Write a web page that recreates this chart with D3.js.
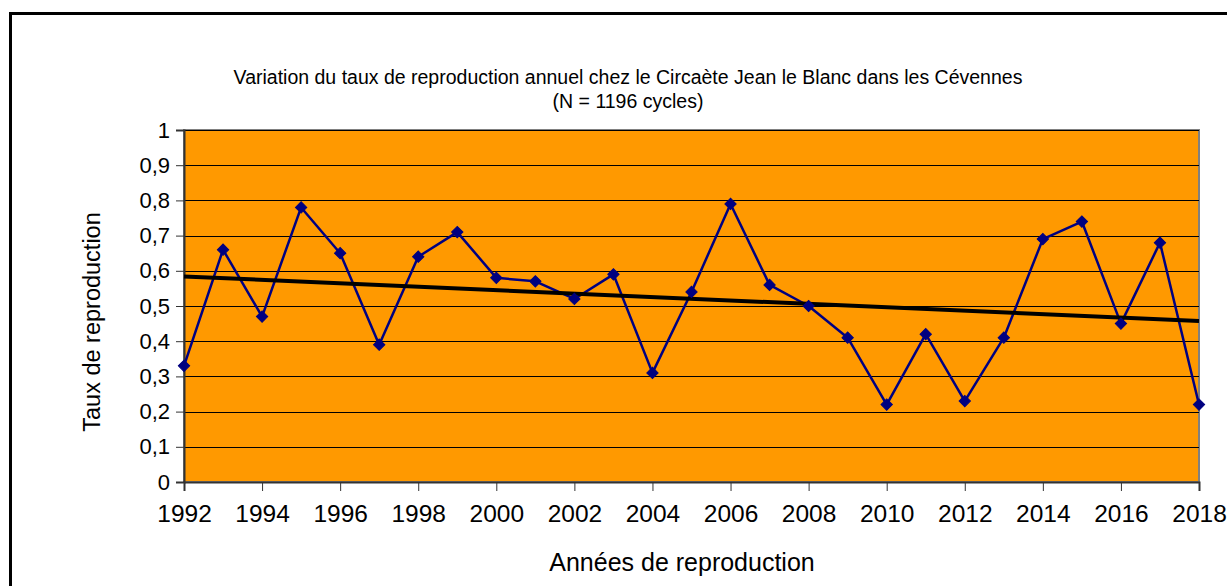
<!DOCTYPE html>
<html>
<head>
<meta charset="utf-8">
<script src="https://cdn.jsdelivr.net/npm/d3@7/dist/d3.min.js"></script>
<style>
  html, body { margin: 0; padding: 0; background: #fff; }
  svg { display: block; font-family: "Liberation Sans", Arial, sans-serif; }
</style>
</head>
<body>
<svg id="chart" width="1227" height="586"></svg>
<script>
const years = [1992,1993,1994,1995,1996,1997,1998,1999,2000,2001,2002,2003,2004,2005,2006,2007,2008,2009,2010,2011,2012,2013,2014,2015,2016,2017,2018];
const rates = [0.33,0.66,0.47,0.78,0.65,0.39,0.64,0.71,0.58,0.57,0.52,0.59,0.31,0.54,0.79,0.56,0.50,0.41,0.22,0.42,0.23,0.41,0.69,0.74,0.45,0.68,0.22];
const yTicks = [0,0.1,0.2,0.3,0.4,0.5,0.6,0.7,0.8,0.9,1];
const xTicks = [1992,1994,1996,1998,2000,2002,2004,2006,2008,2010,2012,2014,2016,2018];
const titleLines = ["Variation du taux de reproduction annuel chez le Circaète Jean le Blanc dans les Cévennes", "(N = 1196 cycles)"];
const xTitle = "Années de reproduction";
const yTitle = "Taux de reproduction";

const svg = d3.select("#chart");
const L = 184, R = 1199, T = 130, B = 482;
const x = d3.scaleLinear().domain([1992, 2018]).range([L, R]);
const y = d3.scaleLinear().domain([0, 1]).range([B, T]);

// outer frame
svg.append("rect").attr("x", 10.5).attr("y", 13.5).attr("width", 1240).attr("height", 600)
  .attr("fill", "#fff").attr("stroke", "#000").attr("stroke-width", 3);

// plot area
svg.append("rect").attr("x", L).attr("y", T).attr("width", R - L).attr("height", B - T)
  .attr("fill", "#FF9900").attr("stroke", "#808080").attr("stroke-width", 2);

// gridlines
svg.append("g").selectAll("line").data(yTicks.filter(d => d > 0)).join("line")
  .attr("x1", L).attr("x2", R)
  .attr("y1", d => Math.round(y(d)) + 0.5).attr("y2", d => Math.round(y(d)) + 0.5)
  .attr("stroke", "#000").attr("stroke-width", 1);

// y axis
const yAxis = d3.axisLeft(y).tickValues(yTicks).tickSize(8).tickPadding(6)
  .tickFormat(d => d3.format("")(Math.round(d * 10) / 10).replace(".", ","));
const gy = svg.append("g").attr("transform", `translate(${L},0)`).call(yAxis);
gy.select(".domain").attr("stroke", "#333").attr("stroke-width", 2);
gy.selectAll(".tick line").attr("stroke", "#333");
gy.selectAll(".tick text").attr("font-size", 22).attr("fill", "#000")
  .attr("font-family", "Liberation Sans, Arial, sans-serif");

// x axis
const xAxis = d3.axisBottom(x).tickValues(xTicks).tickSize(9).tickPadding(14).tickFormat(d3.format("d"));
const gx = svg.append("g").attr("transform", `translate(0,${B})`).call(xAxis);
gx.select(".domain").attr("stroke", "#333").attr("stroke-width", 2);
gx.selectAll(".tick line").attr("stroke", "#333");
gx.selectAll(".tick text").attr("font-size", 24.5).attr("fill", "#000")
  .attr("font-family", "Liberation Sans, Arial, sans-serif");

// series line
const line = d3.line().x((d, i) => x(years[i])).y(d => y(d));
svg.append("path").datum(rates).attr("d", line)
  .attr("fill", "none").attr("stroke", "#000080").attr("stroke-width", 2.5).attr("stroke-linejoin", "round");

// linear trendline (least squares, as Excel's trendline)
const mx = d3.mean(years), my = d3.mean(rates);
const slope = d3.sum(years, (v, i) => (v - mx) * (rates[i] - my)) / d3.sum(years, v => (v - mx) ** 2);
const icpt = my - slope * mx;
svg.append("line")
  .attr("x1", x(1992)).attr("y1", y(icpt + slope * 1992))
  .attr("x2", x(2018)).attr("y2", y(icpt + slope * 2018))
  .attr("stroke", "#000").attr("stroke-width", 4);

// markers (diamonds)
svg.append("g").selectAll("path").data(rates).join("path")
  .attr("d", d3.symbol().type(d3.symbolSquare).size(64))
  .attr("transform", (d, i) => `translate(${x(years[i])},${y(d)}) rotate(45)`)
  .attr("fill", "#000080").attr("stroke", "#000080").attr("stroke-width", 1);

// title
svg.append("text").attr("x", 628).attr("y", 84).attr("text-anchor", "middle")
  .attr("font-size", 19.5).attr("fill", "#000").text(titleLines[0]);
svg.append("text").attr("x", 628).attr("y", 108).attr("text-anchor", "middle")
  .attr("font-size", 19.5).attr("fill", "#000").text(titleLines[1]);

// axis titles
svg.append("text").attr("x", 682).attr("y", 571).attr("text-anchor", "middle")
  .attr("font-size", 25).attr("fill", "#000").text(xTitle);
svg.append("text").attr("transform", "translate(100,322) rotate(-90)").attr("text-anchor", "middle")
  .attr("font-size", 23.5).attr("fill", "#000").text(yTitle);
</script>
</body>
</html>
